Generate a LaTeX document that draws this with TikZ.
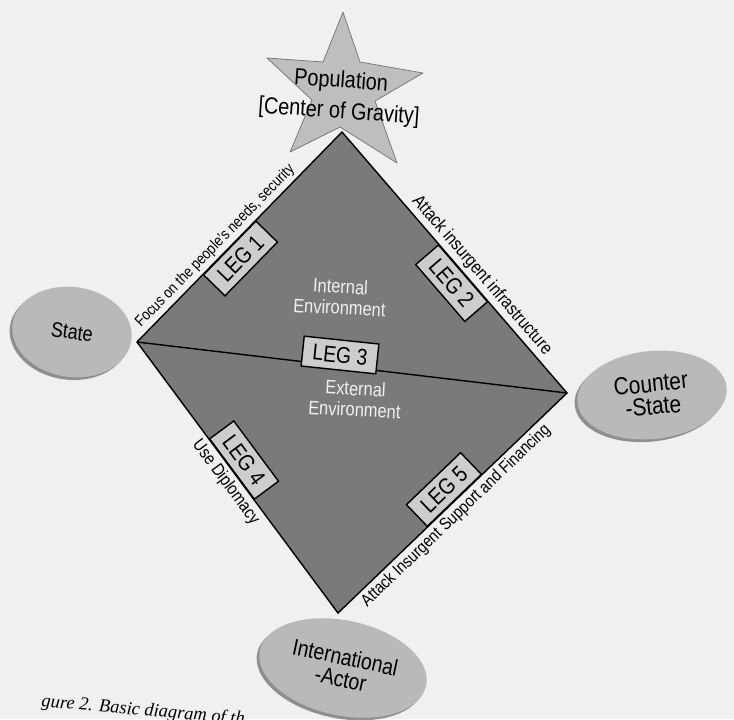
\documentclass[tikz,border=0pt]{standalone}
\usepackage{fontspec}
\setmainfont{Liberation Sans}[FakeStretch=0.85]
\newfontfamily\captionfont{Liberation Serif}
\usetikzlibrary{shapes.geometric,shadows}

\definecolor{pagegray}{RGB}{240,240,240}
\definecolor{stargray}{RGB}{190,190,190}
\definecolor{diamondgray}{RGB}{122,122,122}
\definecolor{actorgray}{RGB}{185,185,185}
\definecolor{leggray}{RGB}{205,205,205}

\begin{document}
\begin{tikzpicture}[x=0.2mm, y=-0.2mm,
    actor/.style={ellipse, fill=actorgray, inner sep=1pt, align=center,
        drop shadow={shadow xshift=-1.5pt, shadow yshift=-1.5pt, fill=black!60, opacity=0.7}},
    legbox/.style={draw, thick, fill=leggray, sloped, inner xsep=2mm, minimum height=6mm,
        font=\fontsize{13}{15}\selectfont},
    envtext/.style={align=center, text=black!6, font=\fontsize{11}{12}\selectfont},
    legtext/.style={sloped, inner sep=2pt}]
    \useasboundingbox (0,0) rectangle (734,719);
    \fill[pagegray] (0,0) rectangle (734,719);

    \fill[stargray, draw=black!55, line join=round] (343,12) -- (360,62) -- (423,73) -- (375,101)
        -- (397,163) -- (340,127) -- (290,152) -- (312,100) -- (267,58) -- (323,62) -- cycle;
    \node[font=\fontsize{13.3}{17.5}\selectfont, align=center, rotate=-4] (pop) at (340,97)
        {Population\\{[}Center of Gravity{]}};

    \coordinate (dtop) at (342,132);
    \coordinate (dleft) at (137,342);
    \coordinate (dright) at (567,393);
    \coordinate (dbot) at (338,613);
    \filldraw[fill=diamondgray, thick] (dleft) -- (dtop) -- (dright) -- (dbot) -- cycle;
    \draw[thick] (dleft) -- (dright);

    \node[envtext, rotate=-3] (internal) at (340,297) {Internal\\Environment};
    \node[envtext, rotate=-3] (external) at (355,399) {External\\Environment};

    \path (dleft) -- (dtop)
        node[legtext, pos=0.42, anchor=south, font=\fontsize{8.8}{10}\selectfont] {Focus on the people's needs, security}
        node[legbox, pos=0.45, anchor=north] (leg1) {LEG 1};
    \path (dtop) -- (dright)
        node[legtext, pos=0.58, anchor=south, font=\fontsize{10.3}{12}\selectfont] {Attack insurgent infrastructure}
        node[legbox, pos=0.54, anchor=north] (leg2) {LEG 2};
    \path (dleft) -- (dbot)
        node[legtext, pos=0.49, anchor=north, font=\fontsize{10}{12}\selectfont] {Use Diplomacy}
        node[legbox, pos=0.47, anchor=south] (leg4) {LEG 4};
    \path (dbot) -- (dright)
        node[legtext, pos=0.48, anchor=north, font=\fontsize{9.7}{11}\selectfont] {Attack Insurgent Support and Financing}
        node[legbox, pos=0.51, anchor=south] (leg5) {LEG 5};
    \node[legbox, rotate=-6] (leg3) at (340,355) {LEG 3};

    \node[actor, rotate=-8, minimum width=24mm, minimum height=18mm,
        font=\fontsize{12}{14}\selectfont] (state) at (72,332) {State};
    \node[actor, rotate=6, minimum width=30mm, minimum height=17.6mm,
        font=\fontsize{14}{13}\selectfont] (counter) at (652,395) {Counter\\-State};
    \node[actor, rotate=-12, minimum width=34mm, minimum height=19mm,
        font=\fontsize{13}{12.5}\selectfont] (intl) at (343,668) {International\\-Actor};

    \node[font=\captionfont\itshape\fontsize{10.5}{12}\selectfont, rotate=-5, anchor=base west]
        (caption) at (35,706) {gure 2. Basic diagram of th};
\end{tikzpicture}
\end{document}
